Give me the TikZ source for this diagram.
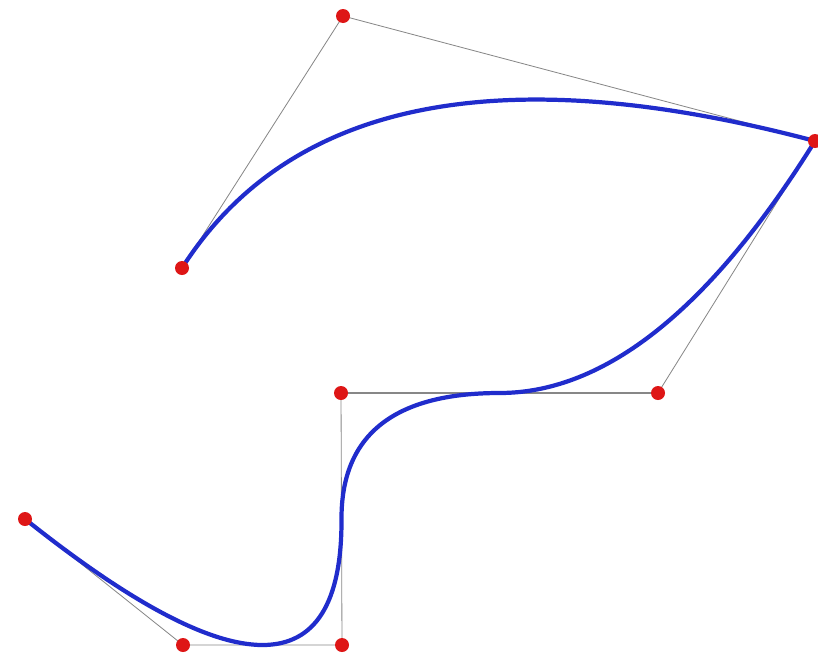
\documentclass[tikz,border=0pt]{standalone}
\usetikzlibrary{calc}
\definecolor{dotred}{RGB}{222,22,22}
\definecolor{curveblue}{RGB}{32,44,204}
\definecolor{polygray}{RGB}{135,135,135}
\begin{document}
\begin{tikzpicture}[x=0.03cm,y=-0.03cm,
  dot/.style={circle,fill=dotred,inner sep=0pt,minimum size=0.42cm},
  poly/.style={draw=polygray,line width=0.7pt},
  spline/.style={draw=curveblue,line width=3.6pt,line cap=round,line join=round}]
\useasboundingbox (0,0) rectangle (818,667);
\coordinate (p0) at (182,268);
\coordinate (p1) at (343,16);
\coordinate (p2) at (815,141);
\coordinate (p3) at (658,393);
\coordinate (p4) at (341,393);
\coordinate (p5) at (342,645);
\coordinate (p6) at (183,645);
\coordinate (p7) at (25,519);
\coordinate (m34) at ($(p3)!0.5!(p4)$);
\coordinate (m45) at ($(p4)!0.5!(p5)$);
\coordinate (m56) at ($(p5)!0.5!(p6)$);
% control polygon
\draw[poly] (p0) -- (p1) -- (p2) -- (p3);
\draw[poly,line width=1.1pt] (p3) -- (p4);
\draw[poly] (p4) -- (p5) -- (p6) -- (p7);
% curve (piecewise quadratic)
\draw[spline] (p0) .. controls ($(p0)!2/3!(p1)$) and ($(p2)!2/3!(p1)$) .. (p2);
\draw[spline] (p2) .. controls ($(p2)!2/3!(p3)$) and ($(m34)!2/3!(p3)$) .. (m34)
  .. controls ($(m34)!2/3!(p4)$) and ($(m45)!2/3!(p4)$) .. (m45)
  .. controls ($(m45)!2/3!(p5)$) and ($(m56)!2/3!(p5)$) .. (m56)
  .. controls ($(m56)!2/3!(p6)$) and ($(p7)!2/3!(p6)$) .. (p7);
% control points
\node[dot] (d0) at (p0) {};
\node[dot] (d1) at (p1) {};
\node[dot] (d2) at (p2) {};
\node[dot] (d3) at (p3) {};
\node[dot] (d4) at (p4) {};
\node[dot] (d5) at (p5) {};
\node[dot] (d6) at (p6) {};
\node[dot] (d7) at (p7) {};
\end{tikzpicture}
\end{document}
